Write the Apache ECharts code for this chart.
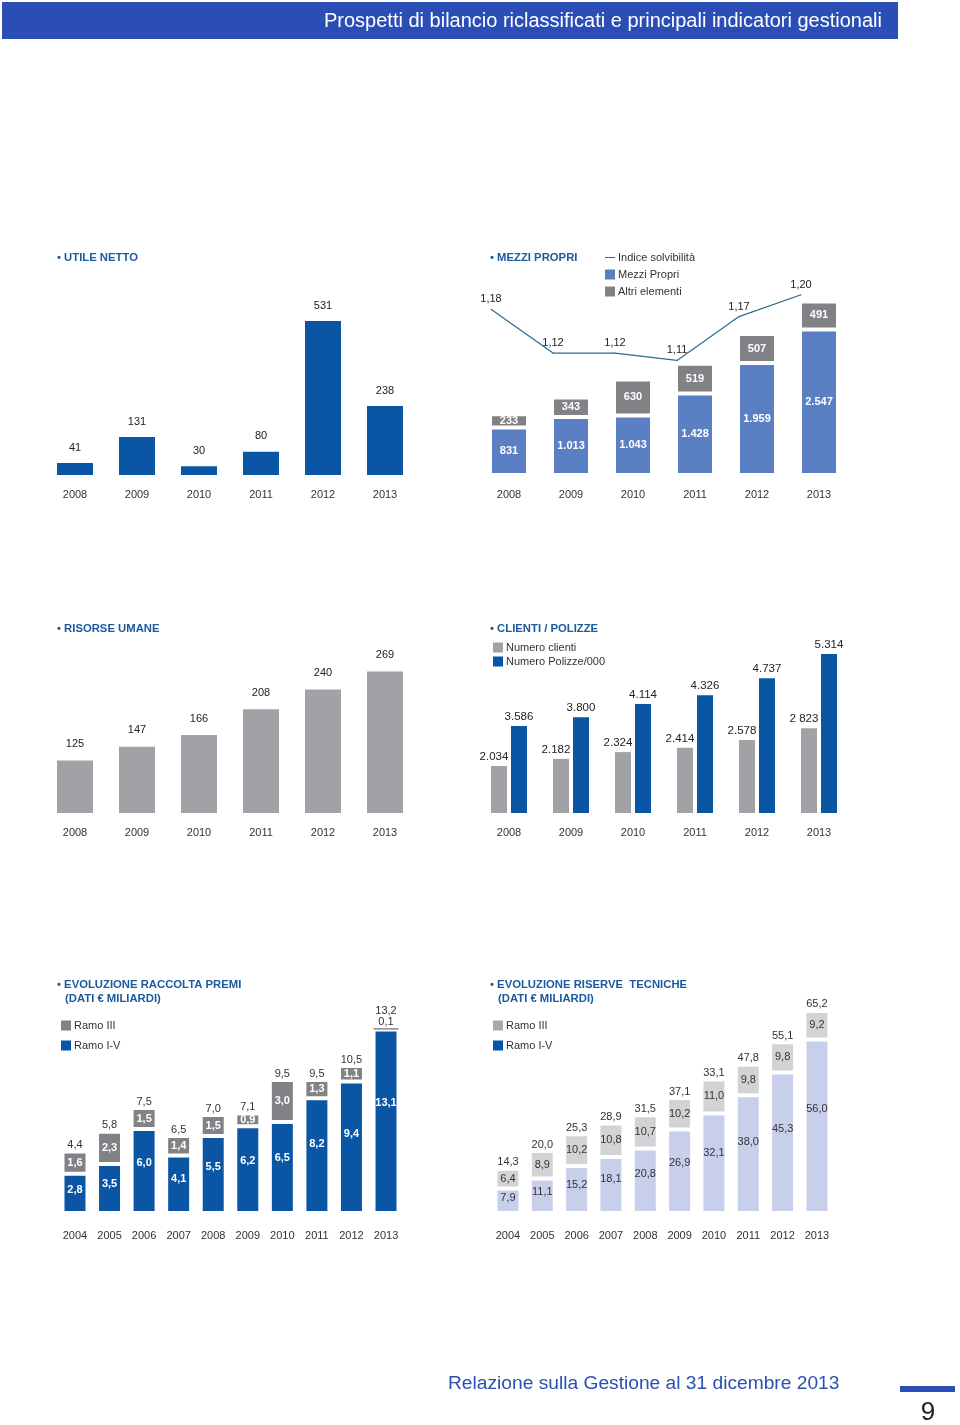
<!DOCTYPE html>
<html><head><meta charset="utf-8">
<script src="https://cdn.jsdelivr.net/npm/echarts@6/dist/echarts.min.js"></script>
<style>html,body{margin:0;padding:0;background:#fff}#c{width:960px;height:1425px}</style>
</head><body><div id="c"></div>
<script>
// ---------- DATA ----------
const years6 = ['2008', '2009', '2010', '2011', '2012', '2013'];
const years10 = ['2004', '2005', '2006', '2007', '2008', '2009', '2010', '2011', '2012', '2013'];

const utileNetto = [41, 131, 30, 80, 531, 238];

const mezziPropri = [831, 1013, 1043, 1428, 1959, 2547];
const altriElementi = [233, 343, 630, 519, 507, 491];
const indiceSolvibilita = [1.18, 1.12, 1.12, 1.11, 1.17, 1.20];

const risorseUmane = [125, 147, 166, 208, 240, 269];

const numeroClienti = [2034, 2182, 2324, 2414, 2578, 2823];
const numeroClientiLabels = ['2.034', '2.182', '2.324', '2.414', '2.578', '2 823'];
const numeroPolizze = [3586, 3800, 4114, 4326, 4737, 5314];

const premiRamoIV = [2.8, 3.5, 6.0, 4.1, 5.5, 6.2, 6.5, 8.2, 9.4, 13.1];
const premiRamoIII = [1.6, 2.3, 1.5, 1.4, 1.5, 0.9, 3.0, 1.3, 1.1, 0.1];
const premiTotale = ['4,4', '5,8', '7,5', '6,5', '7,0', '7,1', '9,5', '9,5', '10,5', '13,2'];

const riserveRamoIV = [7.9, 11.1, 15.2, 18.1, 20.8, 26.9, 32.1, 38.0, 45.3, 56.0];
const riserveRamoIII = [6.4, 8.9, 10.2, 10.8, 10.7, 10.2, 11.0, 9.8, 9.8, 9.2];
const riserveTotale = ['14,3', '20,0', '25,3', '28,9', '31,5', '37,1', '33,1', '47,8', '55,1', '65,2'];

// ---------- STYLE ----------
const FONT = '"Liberation Sans", Arial, Helvetica, sans-serif';
const BLUE = '#0a56a5', GREY = '#a1a2a5', DGREY = '#808285', MP = '#5b7fc3', LINE = '#2c6b8f';
const LBLUE = '#c8cfea', LGREY = '#d2d3d5', TITLE = '#1b5a9e', HEAD = '#2b4eb6';

const dec = (v, d) => v.toFixed(d).replace('.', ',');
const thou = v => String(v).replace(/\B(?=(\d{3})+(?!\d))/g, '.');

function catAxis(grid, data, margin, show) {
  return {type: 'category', gridIndex: grid, data: data, show: show !== false,
    axisLine: {show: false}, axisTick: {show: false},
    axisLabel: {margin: margin, fontSize: 11, color: '#333', fontFamily: FONT, interval: 0}};
}
function valAxis(grid, min, max) {
  return {type: 'value', gridIndex: grid, min: min, max: max, show: false, splitLine: {show: false}};
}
function title(x, y, text) {
  return {type: 'text', x: x, y: y, style: {text: text, fill: TITLE, font: 'bold 11.3px ' + FONT, align: 'left', verticalAlign: 'middle'}};
}
function legendBox(left, top, gap, items) {
  return {left: left, top: top, orient: 'vertical', itemGap: gap, itemWidth: 10, itemHeight: 10, padding: 0,
    selectedMode: false, textStyle: {fontSize: 11, color: '#333', fontFamily: FONT, padding: [0, 0, 0, -2]}, data: items};
}
function totalsSeries(xi, yi, totals, ivArr, iiiArr, small) {
  return {type: 'custom', xAxisIndex: xi, yAxisIndex: yi, silent: true, z: 5,
    data: ivArr.map((v, i) => [i, v + iiiArr[i]]),
    renderItem: function (params, api) {
      const i = api.value(0);
      const pt = api.coord([i, api.value(1)]);
      let txt = totals[i];
      if (small && iiiArr[i] < 0.5) txt += '\n' + dec(iiiArr[i], 1);
      return {type: 'text', x: pt[0], y: pt[1] - 1,
        style: {text: txt, fill: '#333', font: '11px ' + FONT, lineHeight: 11, align: 'center', verticalAlign: 'bottom'}};
    }};
}

const chart = echarts.init(document.getElementById('c'), null, {renderer: 'canvas'});

const option = {
  animation: false,
  textStyle: {fontFamily: FONT},
  grid: [
    {left: 44, width: 372, top: 301, height: 174},
    {left: 478, width: 372, top: 275, height: 200},
    {left: 460, width: 372, top: 275, height: 200},
    {left: 44, width: 372, top: 652.3, height: 160.7},
    {left: 478, width: 372, top: 640, height: 173},
    {left: 57.7, width: 345.6, top: 1017, height: 196},
    {left: 490.8, width: 343.3, top: 996, height: 217}
  ],
  xAxis: [
    catAxis(0, years6, 14),
    catAxis(1, years6, 14),
    catAxis(2, years6, 14, false),
    catAxis(3, years6, 14),
    catAxis(4, years6, 14),
    catAxis(5, years10, 17),
    catAxis(6, years10, 17)
  ],
  yAxis: [
    valAxis(0, 0, 600),
    valAxis(1, 0, 3500),
    valAxis(2, 0.953, 1.227),
    valAxis(3, 40, 300),
    valAxis(4, 1055, 4659),
    valAxis(4, 1500, 5652),
    valAxis(5, 0, 14),
    valAxis(6, 0, 70)
  ],
  legend: [
    legendBox(605, 252, 6, [
      {name: 'Indice solvibilità', icon: 'path://M0,4.5h10v1h-10z', itemStyle: {color: LINE, borderWidth: 0}},
      {name: 'Mezzi Propri', icon: 'rect', itemStyle: {color: MP, borderWidth: 0}},
      {name: 'Altri elementi', icon: 'rect', itemStyle: {color: DGREY, borderWidth: 0}}
    ]),
    legendBox(493, 642, 3, [
      {name: 'Numero clienti', icon: 'rect', itemStyle: {color: GREY, borderWidth: 0}},
      {name: 'Numero Polizze/000', icon: 'rect', itemStyle: {color: BLUE, borderWidth: 0}}
    ]),
    legendBox(61, 1020, 9, [
      {name: 'Ramo III', icon: 'rect', itemStyle: {color: DGREY, borderWidth: 0}},
      {name: 'Ramo I-V', icon: 'rect', itemStyle: {color: BLUE, borderWidth: 0}}
    ]),
    legendBox(493, 1020, 9, [
      {name: 'Ramo III', icon: 'rect', itemStyle: {color: '#a7a9ac', borderWidth: 0}},
      {name: 'Ramo I-V', icon: 'rect', itemStyle: {color: BLUE, borderWidth: 0}}
    ])
  ],
  series: [
    // UTILE NETTO
    {type: 'bar', name: 'Utile netto', xAxisIndex: 0, yAxisIndex: 0, data: utileNetto, barWidth: 36,
      itemStyle: {color: BLUE},
      label: {show: true, position: 'top', distance: 10, fontSize: 11, color: '#222'}},
    // MEZZI PROPRI
    {type: 'bar', name: 'Mezzi Propri', xAxisIndex: 1, yAxisIndex: 1, stack: 'mp', data: mezziPropri, barWidth: 38,
      itemStyle: {color: MP, borderColor: '#fff', borderWidth: 2},
      label: {show: true, position: 'inside', formatter: p => thou(p.value), color: '#fff', fontWeight: 'bold', fontSize: 11}},
    {type: 'bar', name: 'Altri elementi', xAxisIndex: 1, yAxisIndex: 1, stack: 'mp', data: altriElementi, barWidth: 38,
      itemStyle: {color: DGREY, borderColor: '#fff', borderWidth: 2},
      label: {show: true, position: 'inside', formatter: p => thou(p.value), color: '#fff', fontWeight: 'bold', fontSize: 11}},
    {type: 'line', name: 'Indice solvibilità', xAxisIndex: 2, yAxisIndex: 2, data: indiceSolvibilita,
      symbol: 'circle', symbolSize: 1, lineStyle: {color: LINE, width: 1.2}, itemStyle: {color: LINE},
      label: {show: true, position: 'top', distance: 4, offset: [0, 0], formatter: p => dec(p.value, 2), fontSize: 11, color: '#222'}},
    // RISORSE UMANE
    {type: 'bar', name: 'Risorse umane', xAxisIndex: 3, yAxisIndex: 3, data: risorseUmane, barWidth: 36,
      itemStyle: {color: GREY},
      label: {show: true, position: 'top', distance: 11, fontSize: 11, color: '#222'}},
    // CLIENTI / POLIZZE
    {type: 'bar', name: 'Numero clienti', xAxisIndex: 4, yAxisIndex: 4, data: numeroClienti, barWidth: 16, barGap: '25%',
      itemStyle: {color: GREY},
      label: {show: true, position: 'top', distance: 3, offset: [-5, 0], formatter: p => numeroClientiLabels[p.dataIndex], fontSize: 11.5, color: '#222'}},
    {type: 'bar', name: 'Numero Polizze/000', xAxisIndex: 4, yAxisIndex: 5, data: numeroPolizze, barWidth: 16, barGap: '25%',
      itemStyle: {color: BLUE},
      label: {show: true, position: 'top', distance: 3, formatter: p => thou(p.value), fontSize: 11.5, color: '#222'}},
    // RACCOLTA PREMI
    {type: 'bar', name: 'Ramo I-V', xAxisIndex: 5, yAxisIndex: 6, stack: 'pr', data: premiRamoIV, barWidth: 25,
      itemStyle: {color: BLUE, borderColor: '#fff', borderWidth: 2},
      label: {show: true, position: ['50%', '40%'], align: 'center', verticalAlign: 'middle', formatter: p => dec(p.value, 1), color: '#fff', fontWeight: 'bold', fontSize: 11}},
    {type: 'bar', name: 'Ramo III', xAxisIndex: 5, yAxisIndex: 6, stack: 'pr', barWidth: 25,
      data: premiRamoIII.map(v => v < 0.5 ? {value: v, label: {show: false}, itemStyle: {borderWidth: 0}} : v),
      itemStyle: {color: DGREY, borderColor: '#fff', borderWidth: 2},
      label: {show: true, position: 'inside', formatter: p => dec(p.value, 1), color: '#fff', fontWeight: 'bold', fontSize: 11}},
    totalsSeries(5, 6, premiTotale, premiRamoIV, premiRamoIII, true),
    // RISERVE TECNICHE
    {type: 'bar', name: 'Ramo I-V', xAxisIndex: 6, yAxisIndex: 7, stack: 'rt', data: riserveRamoIV, barWidth: 25,
      itemStyle: {color: LBLUE, borderColor: '#fff', borderWidth: 2},
      label: {show: true, position: ['50%', '40%'], align: 'center', verticalAlign: 'middle', formatter: p => dec(p.value, 1), color: '#333', fontSize: 11}},
    {type: 'bar', name: 'Ramo III', xAxisIndex: 6, yAxisIndex: 7, stack: 'rt', data: riserveRamoIII, barWidth: 25,
      itemStyle: {color: LGREY, borderColor: '#fff', borderWidth: 2},
      label: {show: true, position: 'inside', formatter: p => dec(p.value, 1), color: '#333', fontSize: 11}},
    totalsSeries(6, 7, riserveTotale, riserveRamoIV, riserveRamoIII, false)
  ],
  graphic: [
    {type: 'rect', shape: {x: 2, y: 2, width: 896, height: 37}, style: {fill: HEAD}},
    {type: 'text', x: 882, y: 21, style: {text: 'Prospetti di bilancio riclassificati e principali indicatori gestionali', fill: '#fff', font: '20px ' + FONT, align: 'right', verticalAlign: 'middle'}},
    title(57, 258, '• UTILE NETTO'),
    title(490, 258, '• MEZZI PROPRI'),
    title(57, 629, '• RISORSE UMANE'),
    title(490, 629, '• CLIENTI / POLIZZE'),
    title(57, 985, '• EVOLUZIONE RACCOLTA PREMI'),
    title(65, 999, '(DATI € MILIARDI)'),
    title(490, 985, '• EVOLUZIONE RISERVE  TECNICHE'),
    title(498, 999, '(DATI € MILIARDI)'),
    {type: 'text', x: 448, y: 1384, style: {text: 'Relazione sulla Gestione al 31 dicembre 2013', fill: '#2b4fb3', font: '19.2px ' + FONT, align: 'left', verticalAlign: 'middle'}},
    {type: 'rect', shape: {x: 900, y: 1386, width: 55, height: 6}, style: {fill: HEAD}},
    {type: 'text', x: 928, y: 1413, style: {text: '9', fill: '#222', font: '26px ' + FONT, align: 'center', verticalAlign: 'middle'}}
  ]
};
chart.setOption(option);
</script>
</body></html>
